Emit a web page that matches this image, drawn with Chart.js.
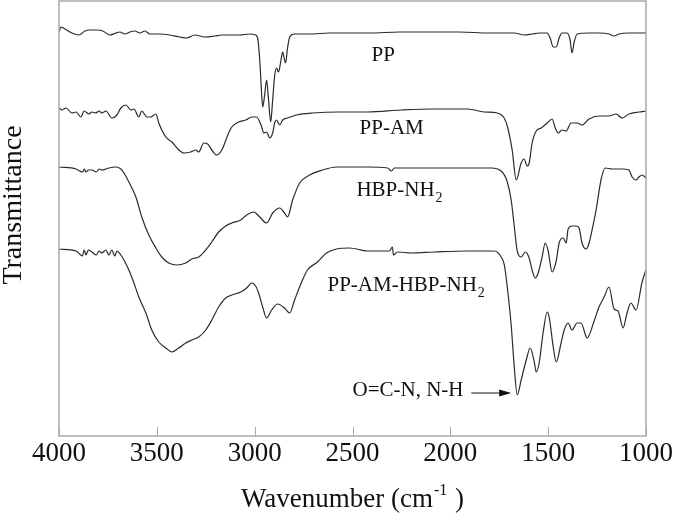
<!DOCTYPE html>
<html>
<head>
<meta charset="utf-8">
<script src="https://cdn.jsdelivr.net/npm/chart.js@4.4.1/dist/chart.umd.min.js"></script>
<style>
  html, body { margin: 0; padding: 0; background: #fff; }
</style>
</head>
<body>
<canvas id="ftir" width="675" height="523"></canvas>
<script>
// wavenumber (cm-1) and transmittance (arbitrary units, curves offset)
const ppWave = [4000,3990,3969,3934,3898,3867,3842,3806,3776,3740,3709,3689,3663,3638,3612,3587,3561,3536,3485,3434,3383,3347,3306,3255,3204,3168,3128,3077,3026,2995,2985,2974,2964,2959,2949,2939,2929,2918,2908,2898,2888,2878,2867,2857,2847,2842,2832,2821,2796,2719,2617,2515,2413,2260,2107,1954,1801,1673,1622,1582,1546,1505,1490,1474,1459,1444,1429,1403,1388,1378,1367,1352,1291,1240,1189,1163,1138,1087,1000];
const ppT = [404,409,407,403,401,405,406,406,405,401,403,404,402,404,405,403,405,402,402,401,399,398,401,399,400,401,401,401,402,401,398,376,341,329,341,356,336,314,336,360,368,364,374,384,376,373,388,399,402,402,403,403,403,404,404,404,403,403,401,402,403,403,398,389,389,398,403,403,396,383,394,402,403,403,402,400,402,403,403];

const ppamWave = [4000,3985,3964,3934,3913,3888,3872,3847,3832,3811,3796,3781,3760,3730,3704,3684,3658,3633,3617,3592,3577,3551,3531,3505,3490,3454,3423,3388,3362,3327,3301,3286,3260,3240,3219,3194,3168,3133,3117,3082,3046,3015,2990,2964,2954,2939,2923,2908,2898,2888,2872,2857,2832,2786,2704,2566,2423,2250,2082,1913,1827,1760,1725,1709,1684,1663,1638,1623,1607,1597,1582,1561,1536,1505,1480,1464,1449,1429,1408,1383,1352,1327,1291,1240,1189,1153,1122,1087,1036,1000];
const ppamT = [328,326,328,323,324,319,325,322,324,323,325,323,325,318,321,328,331,326,327,319,325,319,319,322,313,299,294,286,283,284,286,284,293,292,286,281,286,303,309,314,316,319,319,309,303,304,298,303,313,316,311,316,318,321,323,324,324,326,327,327,324,323,318,310,286,256,273,277,270,273,293,305,308,313,317,308,303,306,305,313,313,311,317,320,320,322,318,322,324,325];

const hbpWave = [4000,3913,3880,3870,3862,3850,3832,3810,3795,3781,3760,3745,3709,3684,3668,3643,3607,3577,3541,3505,3475,3439,3398,3352,3321,3286,3250,3219,3184,3148,3117,3071,3041,3005,2974,2939,2908,2872,2847,2832,2806,2770,2719,2653,2582,2423,2321,2301,2286,2082,1913,1791,1735,1709,1689,1674,1658,1638,1617,1597,1582,1566,1551,1531,1515,1500,1480,1459,1444,1423,1408,1398,1378,1357,1342,1327,1306,1291,1265,1255,1230,1209,1173,1122,1087,1071,1051,1036,1020,1000];
const hbpT = [269,267,264,267,264,266,266,264,267,266,267,268,269,267,263,254,239,219,201,188,179,173,171,173,177,179,186,194,204,210,213,216,221,224,219,213,223,228,223,219,236,253,261,266,269,269,268,265,268,268,268,268,264,254,236,211,185,179,184,178,166,158,163,179,193,185,164,175,193,198,193,207,210,210,208,193,187,193,216,226,256,268,267,267,266,259,256,259,261,258];

const graftWave = [4000,3913,3880,3872,3862,3850,3832,3810,3795,3781,3760,3745,3730,3715,3704,3684,3668,3643,3617,3592,3556,3526,3490,3454,3423,3388,3352,3321,3286,3250,3219,3184,3148,3117,3071,3041,3015,2995,2980,2959,2939,2913,2883,2847,2821,2796,2760,2730,2679,2633,2582,2515,2423,2311,2296,2291,2270,2199,2082,1913,1776,1740,1724,1709,1689,1674,1658,1638,1612,1592,1571,1561,1546,1526,1505,1495,1474,1459,1434,1418,1398,1378,1352,1332,1301,1265,1240,1214,1189,1163,1143,1117,1097,1077,1051,1020,1000];
const graftT = [187,185,180,186,181,186,184,181,185,183,186,181,186,180,185,181,176,166,153,139,123,106,94,88,84,88,93,96,99,106,116,129,138,141,144,148,153,150,143,129,118,126,132,128,123,136,154,166,174,183,187,188,185,185,189,181,184,183,184,185,185,179,171,149,111,71,41,56,76,88,74,64,73,103,124,119,89,74,93,106,113,106,113,113,98,115,129,139,149,127,125,108,123,133,126,154,166];

const xTicks = [4000, 3500, 3000, 2500, 2000, 1500, 1000];

const toPoints = (w, t) => w.map((v, i) => ({ x: v, y: t[i] }));

// curve labels, placed in data units
const notes = [
  { text: "PP", sub: "", x: 2403, y: 381 },
  { text: "PP-AM", sub: "", x: 2464, y: 308 },
  { text: "HBP-NH", sub: "2", x: 2480, y: 246 },
  { text: "PP-AM-HBP-NH", sub: "2", x: 2628, y: 151 },
  { text: "O=C-N, N-H", sub: "", x: 2500, y: 46 }
];
const arrow = { from: 1893, to: 1689, y: 43 };

const serif = "'Liberation Serif', 'Times New Roman', serif";

const overlay = {
  id: "overlay",
  afterDatasetsDraw(chart) {
    const { ctx, chartArea: a, scales: { x, y } } = chart;
    ctx.save();

    ctx.strokeStyle = "#a9a9a9";
    ctx.lineWidth = 1.5;
    ctx.strokeRect(a.left, a.top, a.right - a.left, a.bottom - a.top);
    ctx.beginPath();
    xTicks.forEach(v => {
      const px = Math.round(x.getPixelForValue(v)) + 0.5;
      ctx.moveTo(px, a.bottom);
      ctx.lineTo(px, a.bottom - 9);
    });
    ctx.lineWidth = 1;
    ctx.stroke();

    ctx.fillStyle = "#111";
    ctx.textBaseline = "middle";
    ctx.textAlign = "left";
    notes.forEach(n => {
      const px = x.getPixelForValue(n.x), py = y.getPixelForValue(n.y);
      ctx.font = "21px " + serif;
      ctx.fillText(n.text, px, py);
      if (n.sub) {
        const w = ctx.measureText(n.text).width;
        ctx.font = "14px " + serif;
        ctx.fillText(n.sub, px + w + 1, py + 8);
      }
    });

    // arrow to the amide band
    const ax0 = x.getPixelForValue(arrow.from), ax1 = x.getPixelForValue(arrow.to);
    const ay = y.getPixelForValue(arrow.y);
    ctx.strokeStyle = "#111";
    ctx.lineWidth = 1;
    ctx.beginPath();
    ctx.moveTo(ax0, ay);
    ctx.lineTo(ax1 - 8, ay);
    ctx.stroke();
    ctx.beginPath();
    ctx.moveTo(ax1, ay);
    ctx.lineTo(ax1 - 12, ay - 3.5);
    ctx.lineTo(ax1 - 12, ay + 3.5);
    ctx.closePath();
    ctx.fill();

    // axis titles
    ctx.textAlign = "center";
    ctx.font = "28px " + serif;
    ctx.save();
    ctx.translate(14, 205);
    ctx.rotate(-Math.PI / 2);
    ctx.fillText("Transmittance", 0, 0);
    ctx.restore();

    ctx.textAlign = "left";
    ctx.font = "27px " + serif;
    const t1 = "Wavenumber (cm", t2 = "-1", t3 = " )";
    const w1 = ctx.measureText(t1).width, w3 = ctx.measureText(t3).width;
    ctx.font = "16px " + serif;
    const w2 = ctx.measureText(t2).width;
    let tx = (a.left + a.right) / 2 - (w1 + w2 + 2 + w3) / 2;
    const ty = 500;
    ctx.font = "27px " + serif;
    ctx.fillText(t1, tx, ty);
    ctx.font = "16px " + serif;
    ctx.fillText(t2, tx + w1 + 1, ty - 9);
    ctx.font = "27px " + serif;
    ctx.fillText(t3, tx + w1 + w2 + 2, ty);

    ctx.restore();
  }
};

const line = (label, w, t) => ({
  label,
  data: toPoints(w, t),
  borderColor: "#2b2b2b",
  borderWidth: 1.2,
  pointRadius: 0,
  fill: false,
  cubicInterpolationMode: "monotone"
});

new Chart(document.getElementById("ftir"), {
  type: "line",
  data: {
    datasets: [
      line("PP", ppWave, ppT),
      line("PP-AM", ppamWave, ppamT),
      line("HBP-NH2", hbpWave, hbpT),
      line("PP-AM-HBP-NH2", graftWave, graftT)
    ]
  },
  options: {
    responsive: false,
    animation: false,
    devicePixelRatio: 1,
    layout: { padding: { left: 59, top: 1, right: 28, bottom: 0 } },
    plugins: { legend: { display: false }, tooltip: { enabled: false } },
    scales: {
      x: {
        type: "linear",
        reverse: true,
        min: 1000,
        max: 4000,
        afterBuildTicks: s => { s.ticks = xTicks.map(v => ({ value: v })); },
        afterFit: s => { s.height = 87; },
        grid: { display: false, drawTicks: false },
        border: { display: false },
        ticks: {
          color: "#111",
          padding: 2,
          font: { family: serif, size: 27 },
          callback: v => String(v)
        }
      },
      y: {
        display: false,
        min: 0,
        max: 435
      }
    }
  },
  plugins: [overlay]
});
</script>
</body>
</html>
